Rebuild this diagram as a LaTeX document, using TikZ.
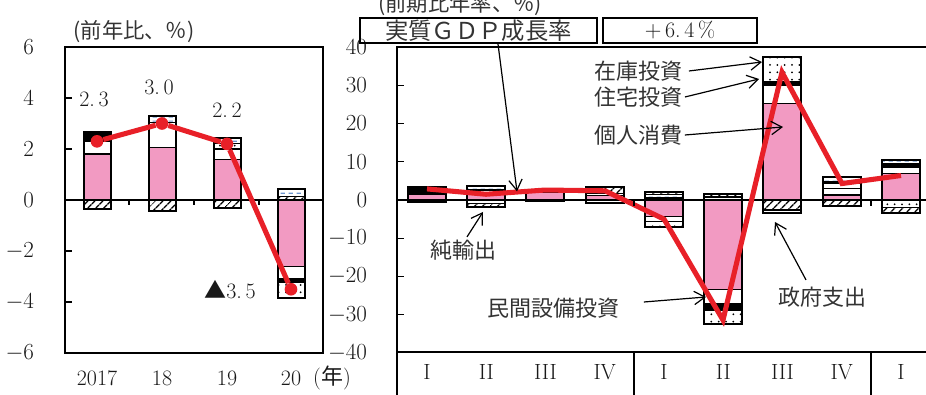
\documentclass[tikz,border=0pt]{standalone}
\usepackage{fontspec}
\newfontfamily\cjk{Noto Sans CJK JP}
\usetikzlibrary{arrows.meta}
\usetikzlibrary{patterns,patterns.meta}
\definecolor{pinkc}{RGB}{242,154,194}
\definecolor{gdpred}{RGB}{232,32,40}
\definecolor{govblue}{RGB}{110,150,205}
\pgfdeclarepatternformonly{govdash}{\pgfpointorigin}{\pgfpoint{6pt}{3pt}}{\pgfpoint{6pt}{3pt}}{%
    \pgfsetlinewidth{0.9pt}%
    \pgfpathmoveto{\pgfpoint{0.5pt}{1.5pt}}\pgfpathlineto{\pgfpoint{4pt}{1.5pt}}\pgfusepath{stroke}}
\tikzset{% 
    seg/.style={draw=black,line width=0.9pt},
    cons/.style={seg,fill=pinkc},
    biz/.style={seg,fill=white},
    res/.style={seg,fill=black},
    inv/.style={seg,preaction={fill=white},pattern={Dots[distance=5.5pt,radius=0.75pt]}},
    netx/.style={seg,preaction={fill=white},pattern={Lines[angle=45,distance=4pt,line width=1.1pt]}},
    gov/.style={seg,preaction={fill=white},pattern=govdash,pattern color=govblue},
    outl/.style={draw=black,line width=1.5pt},
    gdpline/.style={gdpred,line width=3.8pt},
    gdpdot/.style={circle,fill=gdpred,inner sep=0pt,minimum size=9.5pt},
    num/.style={font=\fontsize{16.5}{18}\selectfont,text=black!90,inner sep=2pt},
    jlbl/.style={font=\cjk\fontsize{16.5}{18}\selectfont,text=black!80,inner sep=2pt},
    arr/.style={-{Straight Barb[length=8pt,width=10pt]},line width=0.9pt},
    tbox/.style={draw,line width=1.1pt,inner sep=0pt,minimum height=18.75pt}
}

\begin{document}
\begin{tikzpicture}[x=0.75pt,y=0.75pt]
\useasboundingbox (0,0) rectangle (926,395);

% annual, left panel
\begin{scope}[shift={(0,195)},y=19.125pt]
    \draw[line width=0.8pt] (65,0) -- (323,0);
    \foreach \v in {-4,-2,2,4} \draw[line width=1pt] (65,\v) -- (72,\v);
    \foreach \x in {129,194,259} \draw[line width=1pt] (\x,0) -- (\x,-0.2);
    \foreach \v in {-6,-4,...,6} \node[num,anchor=east] (ly\v) at (37,\v) {$\v$};
    \foreach \x/\s/\a/\b in {97/cons/0/1.8, 97/biz/1.8/2.3, 97/res/2.3/2.65, 97/netx/0/-0.35,
        162/cons/0/2.05, 162/biz/2.05/3.05, 162/gov/3.05/3.3, 162/netx/0/-0.45,
        227/cons/0/1.6, 227/biz/1.6/2.0, 227/inv/2.0/2.2, 227/gov/2.2/2.45, 227/netx/0/-0.3,
        291/netx/0/0.15, 291/gov/0.15/0.45, 291/cons/0/-2.6, 291/biz/-2.6/-3.1, 291/res/-3.1/-3.25, 291/inv/-3.25/-3.85}
        \draw[\s] (\x-13.5,\a) rectangle (\x+13.5,\b);
    \foreach \x/\a/\b in {97/-0.35/2.65, 162/-0.45/3.3, 227/-0.3/2.45, 291/-3.85/0.45}
        \draw[outl] (\x-13.5,\a) rectangle (\x+13.5,\b);
    \draw[outl] (65,-6) rectangle (323,6);
    \node[gdpdot] (d17) at (97,2.3){};
    \node[gdpdot] (d18) at (162,3.0){};
    \node[gdpdot] (d19) at (227,2.2){};
    \node[gdpdot] (d20) at (291,-3.5){};
    \draw[gdpline] (d17) -- (d18) -- (d19) -- (d20);
\end{scope}

\node[jlbl,font=\cjk\fontsize{16}{18}\selectfont] (ttlL) at (134,363) {(前年比、％)};
\node[num] (v17) at (94,296) {2.\,3};
\node[num] (v18) at (159,308) {3.\,0};
\node[num] (v19) at (227,285) {2.\,2};
\node[num] (v20) at (230,105) {{\cjk ▲}3.\,5};
\node[num] (x17) at (97,17) {2017};
\node[num] (x18) at (162,17) {18};
\node[num] (x19) at (227,17) {19};
\node[num] (x20) at (291,17) {20};
\node[num] (xnen) at (332,17) {({\cjk 年})};

% quarterly, right panel
\begin{scope}[shift={(0,195)},y=2.86875pt]
    \draw[line width=0.8pt] (397,0) -- (936,0);
    \foreach \v in {-30,-20,-10,10,20,30} \draw[line width=1pt] (397,\v) -- (404,\v);
    \foreach \v in {-40,-30,...,40} \node[num,anchor=east] (ry\v) at (370,\v) {$\v$};
    \foreach \x/\s/\a/\b in {427/cons/0/1.4, 427/res/1.4/3.3, 427/netx/0/-0.45,
        486/cons/0/1.7, 486/biz/1.7/2.6, 486/gov/2.6/3.65, 486/inv/0/-1.0, 486/netx/-1.0/-1.9,
        545/cons/0/2.0, 545/res/2.0/2.4, 545/netx/0/-0.3,
        605/cons/0/1.1, 605/gov/1.1/1.6, 605/netx/1.6/3.5, 605/inv/0/-0.9,
        664/res/0/0.6, 664/gov/0.6/1.5, 664/netx/1.5/2.2, 664/cons/0/-4.4, 664/biz/-4.4/-5.6, 664/inv/-5.6/-7.0,
        723/gov/0/0.8, 723/netx/0.8/1.5, 723/cons/0/-23.5, 723/biz/-23.5/-27.2, 723/res/-27.2/-28.8, 723/inv/-28.8/-32.4,
        782/cons/0/25.3, 782/biz/25.3/30.0, 782/res/30.0/30.9, 782/inv/30.9/37.3, 782/netx/0/-2.6, 782/gov/-2.6/-3.4,
        842/cons/0/1.3, 842/biz/1.3/2.9, 842/inv/2.9/4.4, 842/res/4.4/4.9, 842/gov/4.9/6.1, 842/netx/0/-1.5,
        901/cons/0/7.0, 901/biz/7.0/8.6, 901/res/8.6/9.5, 901/gov/9.5/10.5, 901/inv/0/-2.0, 901/netx/-2.0/-3.5}
        \draw[\s] (\x-19,\a) rectangle (\x+19,\b);
    \foreach \x/\a/\b in {427/-0.45/3.3, 486/-1.9/3.65, 545/-0.3/2.4, 605/-0.9/3.5, 664/-7.0/2.2,
        723/-32.4/1.5, 782/-3.4/37.3, 842/-1.5/6.1, 901/-3.5/10.5}
        \draw[outl] (\x-19,\a) rectangle (\x+19,\b);
    \coordinate (q1) at (427,2.9);
    \coordinate (q2) at (486,1.5);
    \coordinate (q3) at (545,2.6);
    \coordinate (q4) at (605,2.4);
    \coordinate (q5) at (664,-5.0);
    \coordinate (q6) at (723,-31.4);
    \coordinate (q7) at (782,33.4);
    \coordinate (q8) at (842,4.3);
    \coordinate (q9) at (901,6.4);
    \draw[gdpline] (q1) -- (q2) -- (q3) -- (q4) -- (q5) -- (q6) -- (q7) -- (q8) -- (q9);
\end{scope}

\draw[line width=1.5pt] (936,348) -- (397,348) -- (397,-10);
\draw[line width=1.5pt] (397,43) -- (936,43);
\draw[line width=1.2pt] (634,43) -- (634,-10) (871,43) -- (871,-10);
\draw[line width=1pt] (634,195) -- (634,189) (871,195) -- (871,189);
\foreach \q [count=\i] in {I,II,III,IV,I,II,III,IV,I}
    \node[num] (qx\i) at (367.75+59.25*\i,23) {\q};

\node[jlbl,font=\cjk\fontsize{16}{18}\selectfont] (ttlR) at (460,390) {(前期比年率、％)};
\node[tbox,minimum width=177.75pt,font=\cjk\fontsize{17.5}{18}\selectfont,text=black!80] (gdpbox) at (478.5,364.5) {実質ＧＤＰ成長率};
\node[tbox,num,minimum width=115.5pt] (ratebox) at (680,364.5) {$+$\,6.\,4\,\%};

\node[jlbl] (lblInv) at (638,324) {在庫投資};
\node[jlbl] (lblRes) at (638,298) {住宅投資};
\node[jlbl] (lblCons) at (638,260) {個人消費};
\node[jlbl] (lblNet) at (463,145) {純輸出};
\node[jlbl] (lblBiz) at (553,87) {民間設備投資};
\node[jlbl] (lblGov) at (822,98) {政府支出};

\coordinate (tipInv) at (762,333);
\coordinate (tipRes) at (759,316);
\coordinate (tipCons) at (783,268);
\coordinate (tipNet) at (483,183);
\coordinate (tipBiz) at (706,98);
\coordinate (tipGov) at (775,173);
\coordinate (tipGdp) at (517,203.5);

\draw[arr] ([xshift=14.6pt]gdpbox.south) -- (tipGdp);
\draw[arr] ([xshift=3pt]lblInv.east) -- (tipInv);
\draw[arr] (lblRes.east) -- (tipRes);
\draw[arr] (lblCons.east) -- (tipCons);
\draw[arr] ([xshift=3pt]lblNet.north) -- (tipNet);
\draw[arr] ([xshift=16.5pt,yshift=4.5pt]lblBiz.east) -- (tipBiz);
\draw[arr] ([xshift=-12pt,yshift=3pt]lblGov.north) -- (tipGov);
\end{tikzpicture}
\end{document}
